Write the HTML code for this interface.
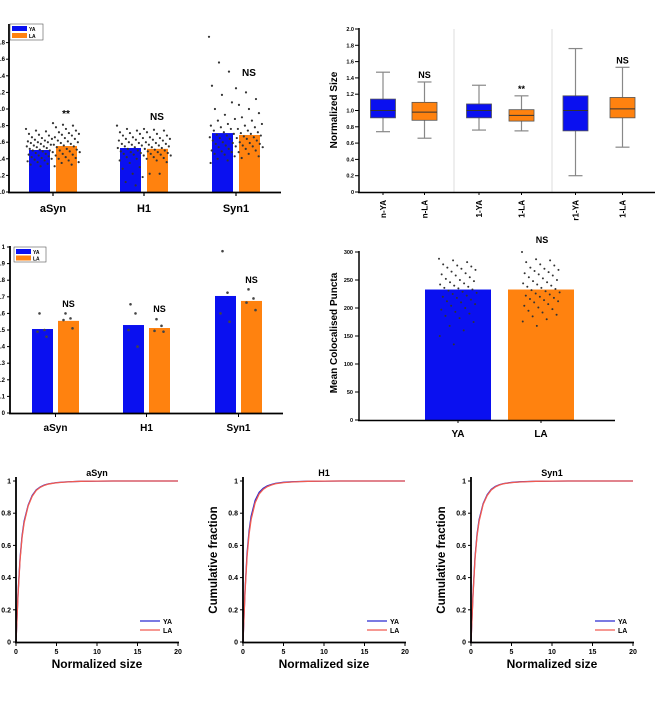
<!DOCTYPE html>
<html><head><meta charset="utf-8"><style>
html,body{margin:0;padding:0;background:#fff;}
svg{display:block;font-family:"Liberation Sans",Arial,sans-serif;}
text{font-weight:bold;fill:#000;}
</style></head>
<body>
<svg id="fig" width="672" height="715" viewBox="0 0 672 715"></svg>
<script>
// ---------- Panel A data ----------
const catsA = ["aSyn","H1","Syn1"];
const meansA_YA = [0.506,0.53,0.71];
const meansA_LA = [0.554,0.52,0.687];
const sigA = ["**","NS","NS"];
const dotsA_YA = [
 [0.76,0.74,0.73,0.7,0.69,0.68,0.66,0.65,0.64,0.63,0.62,0.61,0.6,0.6,0.59,0.58,0.57,0.56,0.55,0.55,0.54,0.53,0.52,0.51,0.5,0.5,0.49,0.48,0.47,0.46,0.45,0.44,0.43,0.42,0.41,0.4,0.39,0.38,0.37,0.36,0.34,0.33,0.31],
 [0.8,0.76,0.74,0.72,0.71,0.7,0.68,0.66,0.65,0.64,0.63,0.62,0.6,0.59,0.58,0.57,0.56,0.55,0.54,0.53,0.52,0.5,0.49,0.48,0.47,0.46,0.45,0.44,0.42,0.4,0.38,0.35,0.3,0.28,0.22,0.18,0.12,0.08],
 [1.87,1.56,1.45,1.28,1.17,1.08,1.0,0.93,0.88,0.86,0.82,0.8,0.78,0.76,0.74,0.72,0.7,0.69,0.68,0.66,0.65,0.64,0.62,0.6,0.59,0.58,0.56,0.55,0.54,0.52,0.5,0.49,0.48,0.46,0.45,0.43,0.4,0.38,0.35]
];
const dotsA_LA = [
 [0.83,0.81,0.8,0.78,0.76,0.74,0.72,0.71,0.7,0.69,0.68,0.66,0.65,0.64,0.62,0.61,0.6,0.59,0.58,0.57,0.56,0.55,0.54,0.52,0.51,0.5,0.49,0.48,0.46,0.45,0.44,0.42,0.41,0.4,0.38,0.36,0.35,0.33,0.31],
 [0.76,0.75,0.74,0.72,0.7,0.68,0.66,0.65,0.64,0.63,0.62,0.6,0.59,0.58,0.57,0.56,0.55,0.54,0.53,0.52,0.51,0.5,0.49,0.48,0.47,0.46,0.45,0.44,0.42,0.41,0.4,0.38,0.36,0.22,0.22],
 [1.25,1.2,1.12,1.05,1.0,0.95,0.9,0.86,0.82,0.8,0.78,0.76,0.74,0.72,0.71,0.7,0.68,0.67,0.66,0.65,0.64,0.62,0.6,0.59,0.58,0.56,0.55,0.54,0.52,0.5,0.48,0.46,0.43,0.41]
];
const ticksA = [0,0.2,0.4,0.6,0.8,1.0,1.2,1.4,1.6,1.8];

// ---------- Panel B data ----------
const catsB = ["n-YA","n-LA","1-YA","1-LA","r1-YA","1-LA"];
const labelsB = ["n-YA","n-LA","1-YA","1-LA","r1-YA","1-LA"];
const minB = [0.74,0.66,0.76,0.75,0.20,0.55];
const q1B  = [0.91,0.88,0.91,0.87,0.75,0.91];
const medB = [1.00,0.98,1.00,0.94,1.00,1.02];
const q3B  = [1.14,1.10,1.08,1.01,1.18,1.16];
const maxB = [1.47,1.35,1.31,1.18,1.76,1.53];
const sigB = ["","NS","","**","","NS"];
const ticksB = [0,0.2,0.4,0.6,0.8,1.0,1.2,1.4,1.6,1.8,2.0];

// ---------- Panel C data ----------
const catsC = ["aSyn","H1","Syn1"];
const meansC_YA = [0.506,0.53,0.705];
const meansC_LA = [0.555,0.512,0.675];
const ptsC_YA = [[0.6,0.5,0.49,0.46],[0.655,0.6,0.5,0.4],[0.975,0.725,0.6,0.55]];
const ptsC_LA = [[0.6,0.57,0.56,0.51],[0.565,0.525,0.495,0.49],[0.745,0.69,0.665,0.62]];
const sigC = ["NS","NS","NS"];
const ticksC = [0,0.1,0.2,0.3,0.4,0.5,0.6,0.7,0.8,0.9,1];

// ---------- Panel D data ----------
const catsD = ["YA","LA"];
const meansD = [233,233];
const dotsD_YA = [288,285,282,278,276,274,272,270,268,265,262,260,258,255,252,250,248,246,244,242,240,238,236,235,233,231,229,227,225,222,220,218,215,212,210,207,204,200,197,193,190,186,182,175,168,160,150,135];
const dotsD_LA = [300,287,285,282,278,276,272,270,268,266,264,262,260,258,255,253,250,248,246,244,242,240,238,236,234,232,230,228,226,224,222,220,218,216,214,212,210,207,204,201,198,195,192,188,185,180,176,168];
const ticksD = [0,50,100,150,200,250,300];

// ---------- Panel E data (CDF) ----------
const cdfX = [0,0.25,0.5,0.75,1,1.5,2,2.5,3,3.5,4,5,6,7,8,10,12,15,20];
const cdfTitles = ["aSyn","H1","Syn1"];
const cdfYA = [
 [0,0.3,0.52,0.66,0.75,0.85,0.91,0.945,0.963,0.975,0.982,0.99,0.994,0.996,0.998,0.999,1,1,1],
 [0,0.32,0.55,0.69,0.78,0.88,0.93,0.955,0.97,0.978,0.985,0.992,0.995,0.997,0.998,0.999,1,1,1],
 [0,0.3,0.53,0.67,0.76,0.86,0.915,0.948,0.966,0.977,0.984,0.991,0.995,0.997,0.998,0.999,1,1,1]
];
const cdfLA = [
 [0,0.29,0.51,0.65,0.74,0.845,0.905,0.942,0.961,0.973,0.981,0.989,0.993,0.996,0.998,0.999,1,1,1],
 [0,0.31,0.53,0.67,0.76,0.865,0.92,0.948,0.965,0.975,0.983,0.99,0.994,0.996,0.998,0.999,1,1,1],
 [0,0.29,0.52,0.66,0.75,0.855,0.91,0.944,0.963,0.975,0.983,0.99,0.994,0.996,0.998,0.999,1,1,1]
];
const ticksEx = [0,5,10,15,20];
const ticksEy = [0,0.2,0.4,0.6,0.8,1];

const NS = "http://www.w3.org/2000/svg";
const svg = document.getElementById("fig");
const BLUE = "#0a10f0", ORANGE = "#ff820f";
function el(tag, attrs, parent){
  const e = document.createElementNS(NS, tag);
  for (const k in attrs) e.setAttribute(k, attrs[k]);
  (parent||svg).appendChild(e);
  return e;
}
function txt(str, x, y, size, anchor, parent, rot){
  const t = el("text", {x:x, y:y, "font-size":size, "text-anchor":anchor||"middle"}, parent);
  if (rot) t.setAttribute("transform", "rotate("+rot+" "+x+" "+y+")");
  t.textContent = str;
  return t;
}
function lin(d0,d1,r0,r1){ return v => r0 + (v-d0)/(d1-d0)*(r1-r0); }

// ===== Panel A =====
(function(){
  const g = el("g", {});
  
  
  const y = lin(0, 0.2, 192, 175.4);
  const centers = [53,144,236];
  const bw = 21;
  const sigY = [117,120,76];
  catsA.forEach((c,i)=>{
    [[meansA_YA[i], BLUE, -1, dotsA_YA[i]],[meansA_LA[i], ORANGE, 1, dotsA_LA[i]]].forEach(([m,col,s,d])=>{
      const x0 = s<0 ? centers[i]-3-bw : centers[i]+3;
      const r = el("rect", {x:x0, y:y(m), width:bw, height:192-y(m), fill:col}, g);
      
      
      d.forEach((v,j)=>{
        const jx = x0 - 3 + ((j*37)%100)/100*(bw+6);
        const p = el("circle", {cx:jx, cy:y(v), r:1.1, fill:"#333"}, g);
        
        
      });
    });
    txt(c, centers[i], 212, 11, "middle", g);
    el("line", {x1:centers[i], x2:centers[i], y1:192, y2:196, stroke:"#000","stroke-width":1.2}, g);
    const st = txt(sigA[i], centers[i]+13, sigY[i], 10, "middle", g);
    
  });
  ticksA.forEach(t=>{
    el("line", {x1:6, x2:9, y1:y(t), y2:y(t), stroke:"#000"}, g);
    txt(t.toFixed(1), 5, y(t)+2, 6, "end", g);
  });
  el("line", {x1:9, x2:9, y1:24, y2:193, stroke:"#000","stroke-width":1.8}, g);
  el("line", {x1:8, x2:281, y1:192.5, y2:192.5, stroke:"#000","stroke-width":1.8}, g);
  const lg = el("g", {}, g);
  
  
  el("rect", {x:10, y:24, width:33, height:16, fill:"#fff", stroke:"#555","stroke-width":0.6}, lg);
  el("rect", {x:12, y:26, width:15, height:5, fill:BLUE}, lg);
  el("rect", {x:12, y:33, width:15, height:5, fill:ORANGE}, lg);
  txt("YA", 29, 31, 5, "start", lg); txt("LA", 29, 38, 5, "start", lg);
})();

// ===== Panel B =====
(function(){
  const g = el("g", {});
  
  
  const y = lin(0, 2, 192, 29);
  const centers = [383,424.5,479,521.5,575.5,622.5];
  const bw = 25;
  el("line", {x1:454, x2:454, y1:29, y2:192, stroke:"#ddd","stroke-width":1}, g);
  el("line", {x1:552, x2:552, y1:29, y2:192, stroke:"#ddd","stroke-width":1}, g);
  catsB.forEach((c,i)=>{
    const cx = centers[i], col = i%2==0 ? BLUE : ORANGE;
    const bg = el("g", {}, g);
    
    
    el("line", {x1:cx, x2:cx, y1:y(minB[i]), y2:y(maxB[i]), stroke:"#888","stroke-width":1.2}, bg);
    el("line", {x1:cx-7, x2:cx+7, y1:y(minB[i]), y2:y(minB[i]), stroke:"#888","stroke-width":1.2}, bg);
    el("line", {x1:cx-7, x2:cx+7, y1:y(maxB[i]), y2:y(maxB[i]), stroke:"#888","stroke-width":1.2}, bg);
    el("rect", {x:cx-bw/2, y:y(q3B[i]), width:bw, height:y(q1B[i])-y(q3B[i]), fill:col, stroke:"#555","stroke-width":0.8}, bg);
    el("line", {x1:cx-bw/2, x2:cx+bw/2, y1:y(medB[i]), y2:y(medB[i]), stroke:"#333","stroke-width":1}, bg);
    if (sigB[i]) txt(sigB[i], cx, y(maxB[i])-4, 9, "middle", g);
    el("line", {x1:cx, x2:cx, y1:192, y2:195, stroke:"#000"}, g);
    txt(labelsB[i], cx+3, 200, 8, "end", g, -90);
  });
  ticksB.forEach(t=>{
    el("line", {x1:355, x2:359, y1:y(t), y2:y(t), stroke:"#000"}, g);
    txt(t===0?"0":t.toFixed(1), 354, y(t)+2, 5.5, "end", g);
  });
  el("line", {x1:359, x2:359, y1:28, y2:193, stroke:"#000","stroke-width":1.5}, g);
  el("line", {x1:358, x2:655, y1:192.5, y2:192.5, stroke:"#000","stroke-width":1.5}, g);
  const yl = txt("Normalized Size", 337, 110, 10, "middle", g, -90);
  
})();

// ===== Panel C =====
(function(){
  const g = el("g", {});
  
  
  const y = lin(0, 1, 413, 247);
  const centers = [55.5,146.5,238.5];
  const bw = 21;
  const sigY = [307,312,283];
  catsC.forEach((c,i)=>{
    [[meansC_YA[i], BLUE, -1, ptsC_YA[i]],[meansC_LA[i], ORANGE, 1, ptsC_LA[i]]].forEach(([m,col,s,d])=>{
      const x0 = s<0 ? centers[i]-2.5-bw : centers[i]+2.5;
      const r = el("rect", {x:x0, y:y(m), width:bw, height:413-y(m), fill:col}, g);
      
      
      d.forEach((v,j)=>{
        const p = el("circle", {cx:x0+bw/2+[-3,2,-5,4][j], cy:y(v), r:1.3, fill:"#444"}, g);
        
        
      });
    });
    txt(sigC[i], centers[i]+13, sigY[i], 9, "middle", g);
    el("line", {x1:centers[i], x2:centers[i], y1:413, y2:417, stroke:"#000"}, g);
    txt(c, centers[i], 431, 10, "middle", g);
  });
  ticksC.forEach(t=>{
    el("line", {x1:7, x2:10, y1:y(t), y2:y(t), stroke:"#000"}, g);
    txt(t===0||t===1?String(t):t.toFixed(1), 5, y(t)+2, 6, "end", g);
  });
  el("line", {x1:10, x2:10, y1:246, y2:414, stroke:"#000","stroke-width":1.8}, g);
  el("line", {x1:9, x2:283, y1:413.5, y2:413.5, stroke:"#000","stroke-width":1.8}, g);
  const lg = el("g", {}, g);
  
  
  el("rect", {x:14, y:247, width:32, height:15, fill:"#fff", stroke:"#555","stroke-width":0.6}, lg);
  el("rect", {x:16, y:249, width:15, height:5, fill:BLUE}, lg);
  el("rect", {x:16, y:255.5, width:15, height:5, fill:ORANGE}, lg);
  txt("YA", 33, 254, 5, "start", lg); txt("LA", 33, 260.5, 5, "start", lg);
})();

// ===== Panel D =====
(function(){
  const g = el("g", {});
  
  
  const y = lin(0, 300, 420, 252);
  const x0s = [425,508], bw = 66;
  catsD.forEach((c,i)=>{
    const r = el("rect", {x:x0s[i], y:y(meansD[i]), width:bw, height:420-y(meansD[i]), fill:i?ORANGE:BLUE}, g);
    
    
    const d = i ? dotsD_LA : dotsD_YA;
    d.forEach((v,j)=>{
      const p = el("circle", {cx:x0s[i]+bw/2-19+((j*37)%100)/100*38, cy:y(v), r:1, fill:"#333"}, g);
      
      
    });
    txt(c, x0s[i]+bw/2, 437, 10, "middle", g);
    el("line", {x1:x0s[i]+bw/2, x2:x0s[i]+bw/2, y1:420, y2:423, stroke:"#000"}, g);
  });
  txt("NS", 542, 243, 9, "middle", g);
  ticksD.forEach(t=>{
    el("line", {x1:355, x2:359, y1:y(t), y2:y(t), stroke:"#000"}, g);
    txt(String(t), 353, y(t)+2, 5.5, "end", g);
  });
  el("line", {x1:359, x2:359, y1:251, y2:421, stroke:"#000","stroke-width":1.5}, g);
  el("line", {x1:358, x2:615, y1:420.5, y2:420.5, stroke:"#000","stroke-width":1.5}, g);
  const yl = txt("Mean Colocalised Puncta", 337, 333, 10, "middle", g, -90);
  
})();

// ===== Panel E (CDFs) =====
[16, 243, 471].forEach((ax, k)=>{
  const g = el("g", {});
  
  
  const x = lin(0, 20, ax, ax+162);
  const y = lin(0, 1, 642, 481);
  [[cdfYA[k], "#2a2ad0"],[cdfLA[k], "#f05a50"]].forEach(([vals,col],s)=>{
    const d = vals.map((v,i)=>(i?"L":"M")+x(cdfX[i]).toFixed(2)+","+y(v).toFixed(2)).join(" ");
    const p = el("path", {d:d, fill:"none", stroke:col, "stroke-width":1.3}, g);
    
    
  });
  el("line", {x1:ax, x2:ax, y1:477, y2:643, stroke:"#000","stroke-width":1.8}, g);
  el("line", {x1:ax-1, x2:ax+163, y1:642.5, y2:642.5, stroke:"#000","stroke-width":1.8}, g);
  ticksEx.forEach(t=>{
    el("line", {x1:x(t), x2:x(t), y1:642, y2:646, stroke:"#000"}, g);
    txt(String(t), x(t), 654, 7, "middle", g);
  });
  ticksEy.forEach(t=>{
    el("line", {x1:ax-3, x2:ax, y1:y(t), y2:y(t), stroke:"#000"}, g);
    txt(t===0||t===1?String(t):t.toFixed(1), ax-5, y(t)+2.5, 7, "end", g);
  });
  txt(cdfTitles[k], ax+81, 476, 9, "middle", g);
  txt("Normalized size", ax+81, 668, 12, "middle", g);
  if (k>0) {
    const yl = txt("Cumulative fraction", ax-26, 560, 11.5, "middle", g, -90);
    
  }
  const lg = el("g", {}, g);
  
  
  el("line", {x1:ax+124, x2:ax+144, y1:621, y2:621, stroke:"#2a2ad0","stroke-width":1.3}, lg);
  el("line", {x1:ax+124, x2:ax+144, y1:630, y2:630, stroke:"#f05a50","stroke-width":1.3}, lg);
  txt("YA", ax+147, 624, 7, "start", lg);
  txt("LA", ax+147, 633, 7, "start", lg);
});
</script>
</body></html>
